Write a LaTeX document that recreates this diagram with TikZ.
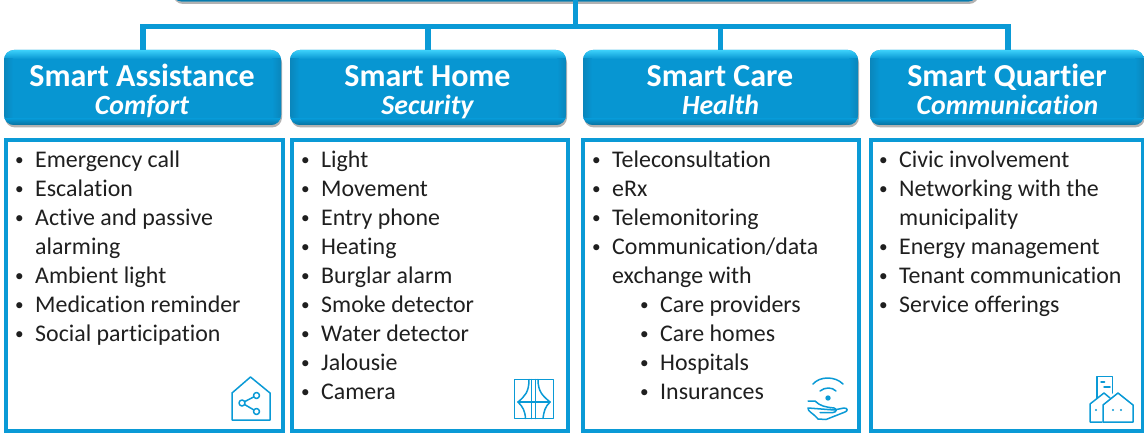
\documentclass[tikz,border=0pt]{standalone}
\usepackage{fontspec}
\setmainfont[Ligatures=NoCommon]{Carlito}
\usetikzlibrary{calc}
\definecolor{cblue}{HTML}{0A9AD6}
\definecolor{hbase}{HTML}{0796D2}
\definecolor{hlight}{HTML}{3CD0FA}
\definecolor{hdark}{HTML}{0A86BC}
\newcommand{\bul}{\raisebox{2pt}{\scalebox{0.72}{\textbullet}}}
\newcommand{\blt}[1]{\makebox[20pt][l]{\bul}#1}
\newcommand{\cnt}[1]{\hspace*{20pt}#1}
\newcommand{\sub}[1]{\hspace*{48pt}\makebox[20pt][l]{\bul}#1}
\tikzset{
  x=1pt,y=-1pt,
  conn/.style={draw=cblue,line width=5.5pt},
  bodybox/.style={draw=cblue,line width=4pt,fill=white,anchor=north west,inner sep=0pt,outer sep=0pt},
  listtext/.style={anchor=north west,align=left,inner sep=0pt,font=\fontsize{23.9}{29}\selectfont,text=black!88},
  icon/.style={draw=cblue,line width=1.5pt,line join=round,line cap=round},
  title/.style={anchor=base,font=\fontsize{32}{32}\selectfont\bfseries,text=white},
  subtitle/.style={anchor=base,font=\fontsize{27.8}{28}\selectfont\bfseries\itshape,text=white},
}
% header: #1 name, #2 left, #3 right, #4 top, #5 bottom
\newcommand{\headerbox}[5]{%
  \fill[black!30,rounded corners=10pt] (#2+1,#4+3) rectangle (#3+1,#5+2.5);
  \node[inner sep=0pt,outer sep=0pt,minimum width=#3pt-#2pt,minimum height=#5pt-#4pt,anchor=north west,
        fill=hbase,rounded corners=10pt] (#1) at (#2,#4) {};
  \begin{scope}
    \clip[rounded corners=10pt] (#2,#4) rectangle (#3,#5);
    \shade[top color=hlight,bottom color=hbase] (#2,#4) rectangle (#3,#4+9);
    \shade[left color=hdark,right color=hbase] (#2,#4+9) rectangle (#2+9,#5-5);
    \shade[right color=hdark,left color=hbase] (#3-9,#4+9) rectangle (#3,#5-5);
    \shade[bottom color=hdark!85!black,top color=hbase] (#2,#5-6) rectangle (#3,#5);
  \end{scope}
}
\newcommand{\bodyframe}[5]{%
  \node[bodybox,minimum width=#3pt-#2pt,minimum height=#5pt-#4pt] (#1) at (#2,#4) {};
}
\begin{document}
\begin{tikzpicture}
\useasboundingbox (0,0) rectangle (1144,433);
\fill[white] (0,0) rectangle (1144,433);
% root (cut off by the top edge)
\headerbox{root}{172}{978}{-70}{1.5}
\coordinate (bus) at (575.5,26.5);
% headers
\headerbox{h1}{4}{281}{50}{125}
\headerbox{h2}{290}{566}{50}{125}
\headerbox{h3}{583}{858}{50}{125}
\headerbox{h4}{870}{1144}{50}{125}
% connectors
\draw[conn,line cap=rect] (root.south -| bus) -- (bus);
\draw[conn] (bus) -| ($(h1.north)+(0.5,0)$);
\draw[conn] (bus) -| (h2.north);
\draw[conn] (bus) -| (h3.north);
\draw[conn] (bus) -| ($(h4.north)+(1,0)$);
% header labels
\node[title] (t1) at (142,87) {Smart Assistance};
\node[subtitle] (s1) at (142,115) {Comfort};
\node[title] (t2) at (427.5,87) {Smart Home};
\node[subtitle] (s2) at (427.5,115) {Security};
\node[title] (t3) at (720,87) {Smart Care};
\node[subtitle] (s3) at (720.5,115) {Health};
\node[title] (t4) at (1007,87) {Smart Quartier};
\node[subtitle] (s4) at (1007.5,115) {Communication};
% bodies
\bodyframe{b1}{6}{283}{140}{431}
\bodyframe{b2}{292}{568}{140}{431}
\bodyframe{b3}{583}{859}{140}{431}
\bodyframe{b4}{871}{1143}{140}{431}
\node[listtext] (l1) at (15,151) {\blt{Emergency call}\\\blt{Escalation}\\\blt{Active and passive}\\\cnt{alarming}\\\blt{Ambient light}\\\blt{Medication reminder}\\\blt{Social participation}};
\node[listtext] (l2) at (301,151) {\blt{Light}\\\blt{Movement}\\\blt{Entry phone}\\\blt{Heating}\\\blt{Burglar alarm}\\\blt{Smoke detector}\\\blt{Water detector}\\\blt{Jalousie}\\\blt{Camera}};
\node[listtext] (l3) at (592,151) {\blt{Teleconsultation}\\\blt{eRx}\\\blt{Telemonitoring}\\\blt{Communication/data}\\\cnt{exchange with}\\\sub{Care providers}\\\sub{Care homes}\\\sub{Hospitals}\\\sub{Insurances}};
\node[listtext] (l4) at (879,151) {\blt{Civic involvement}\\\blt{Networking with the}\\\cnt{municipality}\\\blt{Energy management}\\\blt{Tenant communication}\\\blt{Service offerings}};
% icon: house with share symbol
\draw[icon] (232,420) -- (232,393) -- (250.5,377) -- (270,393) -- (270,420) -- cycle;
\draw[icon] (256.5,395.5) -- (242,403) -- (256.5,411.5);
\draw[icon,fill=white] (256.5,395.5) circle (3pt) (242,403) circle (3pt) (256.5,411.5) circle (3pt);
% icon: window with curtains
\draw[icon] (514.5,379.5) rectangle (553.5,418.5);
\draw[icon] (518,402) -- (550,402) (531.5,379.5) -- (531.5,418.5) (535.5,379.5) -- (535.5,418.5);
\draw[icon] (529,379.5) .. controls (529,392) and (525,396) .. (518,402) .. controls (523,407) and (525,411) .. (525.5,418.5);
\draw[icon] (538,379.5) .. controls (538,392) and (543,396) .. (550,402) .. controls (545,407) and (544,411) .. (543,418.5);
% icon: hand with wireless signal
\draw[icon] (813,384) .. controls (820,376) and (835,376) .. (843,384);
\draw[icon] (820,391) .. controls (825,387) and (832,387) .. (836,391);
\fill[cblue] (828,398) circle (2.7pt);
\draw[icon] (808,401) -- (815,401) .. controls (820,406) and (825,407) .. (834,408) .. controls (837,409) and (837,412) .. (833,412.5) -- (820,412.5)
  (834,410) -- (844,408) .. controls (848,408) and (848,411) .. (845,412) -- (826,419.5) -- (818,419) .. controls (812,412) and (808,412) .. (808,408) -- cycle;
% icon: city quarter
\draw[icon] (1097,398) -- (1097,376.5) -- (1112.5,376.5) -- (1112.5,393);
\draw[icon] (1101,382) -- (1104.5,382) (1104,387) -- (1110,387);
\draw[icon] (1102,422) -- (1090,422) -- (1090,404) -- (1104,393) -- (1110,398);
\draw[icon] (1103,422) -- (1103,405) -- (1118,393) -- (1133,405) -- (1133,422) -- cycle;
\fill[cblue] (1096,410) circle (1.2pt) (1113,410) circle (1.2pt) (1121,410) circle (1.2pt);
\end{tikzpicture}
\end{document}
